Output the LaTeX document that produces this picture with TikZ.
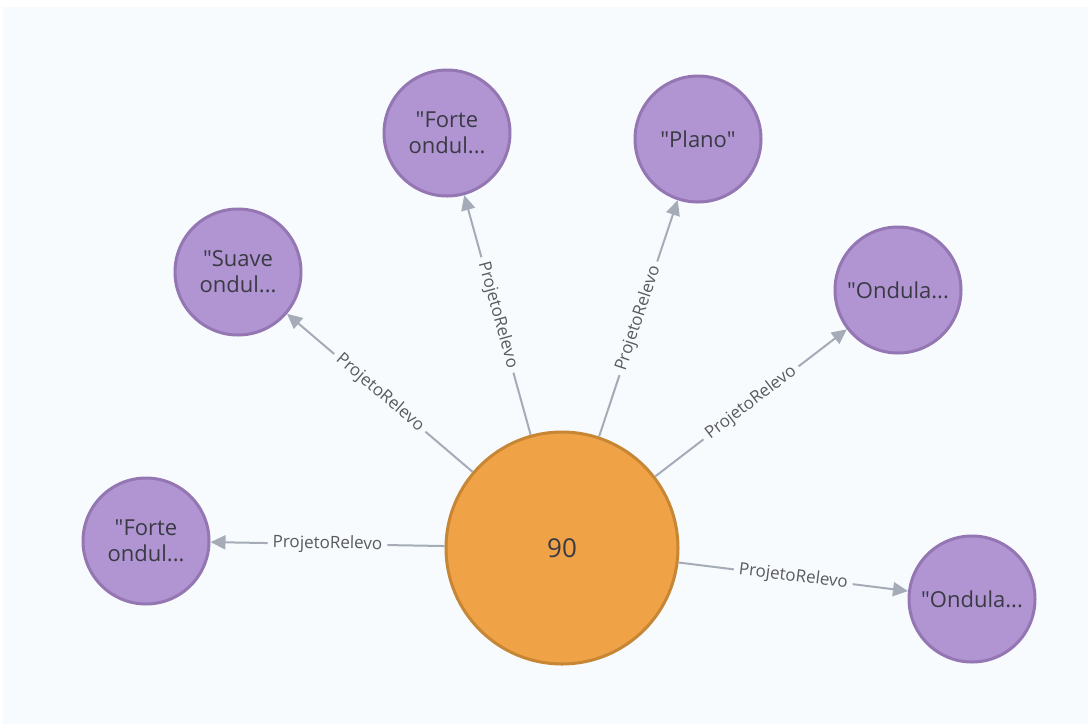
\documentclass[tikz,border=0pt]{standalone}
\usepackage{fontspec}
\setmainfont{Open Sans}[Ligatures=TeXOff]
\usetikzlibrary{arrows.meta}
\definecolor{canvas}{RGB}{247,251,254}
\definecolor{lilac}{RGB}{176,149,210}
\definecolor{lilacedge}{RGB}{148,118,178}
\definecolor{amber}{RGB}{240,162,70}
\definecolor{amberedge}{RGB}{198,134,52}
\definecolor{linkgray}{RGB}{166,172,183}
\definecolor{inkgray}{RGB}{58,58,68}
\definecolor{labgray}{RGB}{90,90,96}
\tikzset{
  valnode/.style={circle, fill=lilac, draw=lilacedge, line width=3pt,
    minimum size=126pt, inner sep=0pt, align=center,
    font=\fontsize{22}{26}\selectfont, text=inkgray},
  hubnode/.style={circle, fill=amber, draw=amberedge, line width=3pt,
    minimum size=232pt, inner sep=0pt,
    font=\fontsize{26}{30}\selectfont, text=inkgray},
  rel/.style={draw=linkgray, line width=2pt,
    -{Triangle[length=15pt,width=14pt]}},
  rellabel/.style={sloped, fill=canvas, inner sep=5pt,
    font=\fontsize{17}{20}\selectfont, text=labgray}
}
\begin{document}
\begin{tikzpicture}[x=1pt,y=-1pt]
  \useasboundingbox (0,0) rectangle (1088,724);
  \fill[white] (0,0) rectangle (1088,724);
  \fill[canvas] (3,7) rectangle (1088,724);

  % hub and its relief values
  \node[hubnode] (hub) at (562,548) {90};
  \node[valnode] (fl) at (146,541) {"Forte\\ondul...};
  \node[valnode] (su) at (238,272) {"Suave\\ondul...};
  \node[valnode] (ft) at (447,133) {"Forte\\ondul...};
  \node[valnode] (pl) at (698,139) {"Plano"};
  \node[valnode] (ou) at (898,290) {"Ondula...};
  \node[valnode] (ol) at (972,599) {"Ondula...};

  % ProjetoRelevo relationships
  \draw[rel] (hub) -- node[rellabel] {ProjetoRelevo} (fl);
  \draw[rel] (hub) -- node[rellabel] {ProjetoRelevo} (su);
  \draw[rel] (hub) -- node[rellabel] {ProjetoRelevo} (ft);
  \draw[rel] (hub) -- node[rellabel] {ProjetoRelevo} (pl);
  \draw[rel] (hub) -- node[rellabel] {ProjetoRelevo} (ou);
  \draw[rel] (hub) -- node[rellabel] {ProjetoRelevo} (ol);
\end{tikzpicture}
\end{document}
